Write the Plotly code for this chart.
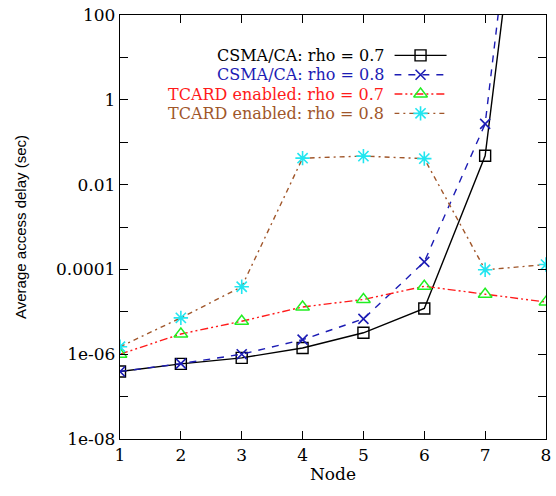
import plotly.graph_objects as go

# Access delay per node (seconds)
nodes = [1, 2, 3, 4, 5, 6, 7, 8]
csma_07 = [3.9e-7, 5.9e-7, 8.2e-7, 1.4e-6, 3.2e-6, 1.2e-5, 0.048, 2e10]
csma_08 = [3.9e-7, 6.0e-7, 1.0e-6, 2.2e-6, 6.8e-6, 1.5e-4, 0.27, 3e11]
tcard_07 = [1.0e-6, 3.0e-6, 6.0e-6, 1.3e-5, 1.95e-5, 4.0e-5, 2.6e-5, 1.7e-5]
tcard_08 = [1.5e-6, 7.2e-6, 3.9e-5, 0.042, 0.047, 0.041, 9.8e-5, 1.3e-4]

series_names = [
    "CSMA/CA: rho = 0.7",
    "CSMA/CA: rho = 0.8",
    "TCARD enabled: rho = 0.7",
    "TCARD enabled: rho = 0.8",
]

ytick_vals = [10.0 ** e for e in range(-8, 3)]
ytick_text = ["1e-08", "", "1e-06", "", "0.0001", "", "0.01", "", "1", "", "100"]

FONT = "DejaVu Serif"
SANS = "Liberation Sans"

styles = [
    dict(line=dict(color="black", width=1.4, dash="solid"),
         marker=dict(symbol="square-open", size=11, color="black", line=dict(width=1.4)),
         text_color="black"),
    dict(line=dict(color="#1c1cb4", width=1.4, dash="7px,7px"),
         marker=dict(symbol="x-thin-open", size=10, color="#1c1cb4", line=dict(width=1.6)),
         text_color="#1c1cb4"),
    dict(line=dict(color="#ff1a1a", width=1.4, dash="8px,3px,2px,3px,2px,3px"),
         marker=dict(symbol="triangle-up-open", size=12, color="#22ee22", line=dict(width=1.4)),
         text_color="#ff1a1a"),
    dict(line=dict(color="#a0562a", width=1.4, dash="5px,4px,2px,4px"),
         marker=dict(symbol="asterisk-open", size=12, color="#22e6f0", line=dict(width=1.6)),
         text_color="#a0562a"),
]

data = [csma_07, csma_08, tcard_07, tcard_08]

fig = go.Figure()
for vals, st, name in zip(data, styles, series_names):
    fig.add_trace(go.Scatter(
        x=nodes, y=vals, mode="lines+markers", name=name,
        line=st["line"], marker=st["marker"], showlegend=False,
    ))

# Key: sample line and marker for each series on a small helper axis
for i, (st, name) in enumerate(zip(styles, series_names)):
    fig.add_trace(go.Scatter(
        x=[0, 1], y=[i, i], mode="lines", line=st["line"],
        xaxis="x2", yaxis="y2", showlegend=False, hoverinfo="skip", cliponaxis=False,
    ))
    fig.add_trace(go.Scatter(
        x=[0.5], y=[i], mode="markers", marker=st["marker"],
        xaxis="x2", yaxis="y2", showlegend=False, hoverinfo="skip", cliponaxis=False,
    ))
    fig.add_annotation(
        x=0, y=i, xref="x2", yref="y2", text=name, showarrow=False,
        xanchor="right", yanchor="middle", xshift=-9, borderpad=0,
        font=dict(family=FONT, size=16, color=st["text_color"]),
    )

axis_common = dict(
    showline=True, linecolor="black", linewidth=1.4, mirror="ticks",
    ticks="inside", ticklen=8, tickwidth=1.2, tickcolor="black",
    showgrid=False, zeroline=False,
    tickfont=dict(family=FONT, size=17, color="black"),
)

fig.update_layout(
    width=556, height=496,
    margin=dict(l=120, r=5, t=11, b=57),
    paper_bgcolor="white", plot_bgcolor="white",
    xaxis=dict(
        range=[1, 8], tickvals=nodes, ticktext=[str(n) for n in nodes],
        title=dict(text="Node", font=dict(family=FONT, size=17, color="black"), standoff=4),
        **axis_common,
    ),
    yaxis=dict(
        type="log", range=[-8, 2], tickvals=ytick_vals, ticktext=ytick_text,
        title=dict(text="Average access delay (sec)", font=dict(family=SANS, size=15, color="black"),
                   standoff=25),
        **axis_common,
    ),
    xaxis2=dict(domain=[0.644, 0.767], range=[0, 1], visible=False, anchor="y2"),
    yaxis2=dict(domain=[0.7453, 0.9275], range=[3.5, -0.5], visible=False, anchor="x2"),
)

fig.write_html("out.html")
